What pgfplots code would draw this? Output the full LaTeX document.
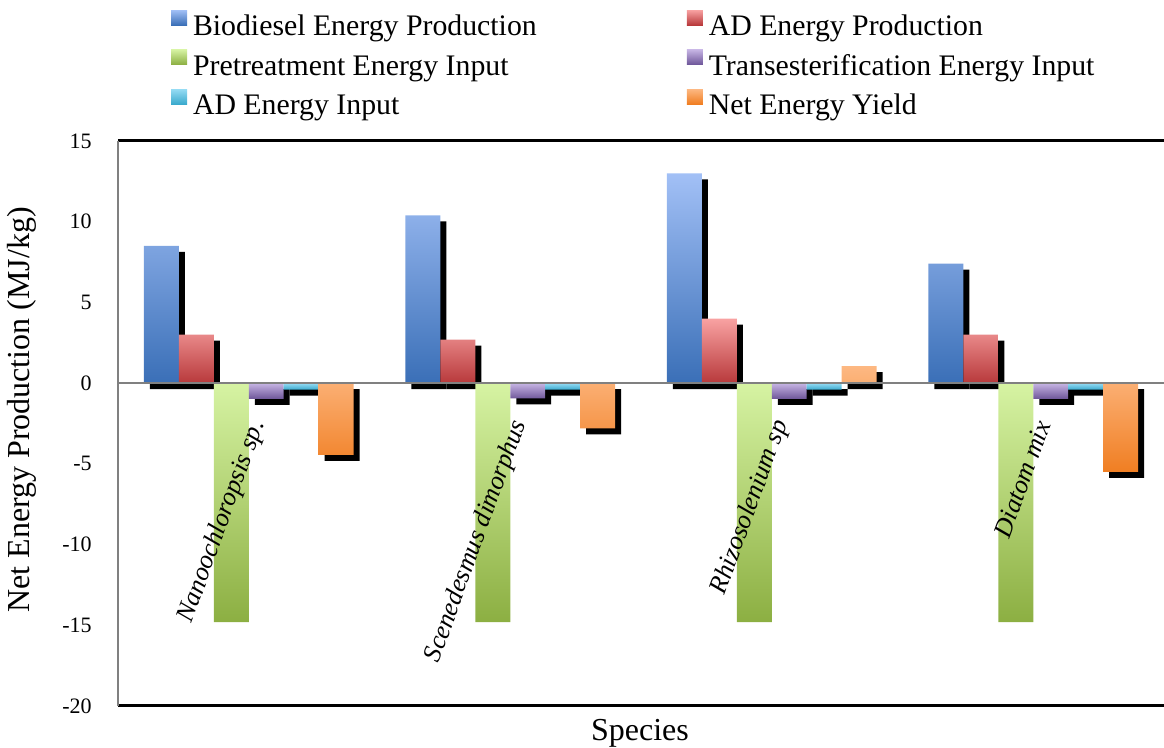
\documentclass[border=0pt]{standalone}
\usepackage{pgfplots}
\usepackage{pgfplotstable}
\pgfplotsset{compat=1.18}
\usepackage{fontspec}
\setmainfont{Liberation Serif}
\definecolor{bioT}{HTML}{A2C0F6}
\definecolor{bioB}{HTML}{3A6FB7}
\definecolor{adT}{HTML}{F8A2A2}
\definecolor{adB}{HTML}{B8393B}
\definecolor{preT}{HTML}{D6F3A3}
\definecolor{preB}{HTML}{8CAF42}
\definecolor{trT}{HTML}{C7B5E4}
\definecolor{trB}{HTML}{6E5699}
\definecolor{aiT}{HTML}{96DCF4}
\definecolor{aiB}{HTML}{3BAACD}
\definecolor{netT}{HTML}{FDB882}
\definecolor{netB}{HTML}{F07E22}
\definecolor{axgray}{HTML}{808080}

\pgfplotstableread{
x bio ad pre tr ai net
0 8.5 3.0 -14.8 -0.97 -0.4 -4.45
1 10.4 2.7 -14.8 -0.95 -0.4 -2.8
2 13.0 4.0 -14.8 -0.97 -0.4 1.05
3 7.4 3.0 -14.8 -0.97 -0.4 -5.5
}\datatable

\pgfplotsset{
  shadowbar/.style={ybar, bar width=0.1336, bar shift=#1, fill=black, draw=none, xshift=3pt, yshift=-3pt, forget plot},
  mainbar/.style={ybar, bar width=0.1336, bar shift=#1, draw=none},
}

\begin{document}
\begin{tikzpicture}
\useasboundingbox (0,0) rectangle (582pt,374pt);
\begin{axis}[
  at={(59pt,21pt)}, anchor=south west,
  scale only axis, width=523pt, height=282.5pt,
  xmin=-0.5, xmax=3.5, ymin=-20, ymax=15,
  clip=false,
  axis x line*=middle, axis y line*=left,
  axis on top,
  x axis line style={draw=axgray, line width=1pt},
  y axis line style={draw=axgray, line width=1pt},
  xtick={0,1,2,3},
  xticklabels={Nanoochloropsis sp., Scenedesmus dimorphus, Rhizosolenium sp, Diatom mix},
  xticklabel style={font=\itshape\fontsize{13}{16}\selectfont, inner sep=0pt, xshift=5pt, yshift=-19pt, rotate=70, anchor=east},
  ytick={-20,-15,...,15},
  yticklabel style={font=\fontsize{11}{13}\selectfont, inner sep=0pt, xshift=-13pt},
  major tick length=0pt,
  /pgf/number format/assume math mode=true,
  xlabel={Species}, ylabel={Net Energy Production (MJ/kg)},
  every axis x label/.style={at={(axis description cs:0.499,-0.048)}, anchor=center, font=\fontsize{16}{19}\selectfont},
  every axis y label/.style={at={(axis description cs:-0.0918,0.524)}, rotate=90, anchor=center, font=\fontsize{16}{19}\selectfont},
  legend columns=2,
  legend cell align=left,
  legend style={at={(axis description cs:0.0507,1.2318)}, anchor=north west, draw=none, fill=none, inner sep=0pt, outer sep=0pt,
    font=\fontsize{14.9}{17}\selectfont,
    nodes={inner sep=0pt, text height=10pt, text depth=3.5pt},
    row sep=3.5pt,
    /tikz/every odd column/.append style={column sep=3pt},
    /tikz/every even column/.append style={column sep=75pt}},
  legend image code/.code={\path[#1, draw=none] (0pt,2pt) rectangle (8pt,9.5pt);},
]
\addplot[shadowbar=-0.334] table[x=x,y=bio]{\datatable};
\addplot[mainbar=-0.334, top color=bioT, bottom color=bioB] table[x=x,y=bio]{\datatable};
\addlegendentry{Biodiesel Energy Production}
\addplot[shadowbar=-0.2004] table[x=x,y=ad]{\datatable};
\addplot[mainbar=-0.2004, top color=adT, bottom color=adB] table[x=x,y=ad]{\datatable};
\addlegendentry{AD Energy Production}
\addplot[mainbar=-0.0668, top color=preT, bottom color=preB] table[x=x,y=pre]{\datatable};
\addlegendentry{Pretreatment Energy Input}
\addplot[shadowbar=0.0668] table[x=x,y=tr]{\datatable};
\addplot[mainbar=0.0668, top color=trT, bottom color=trB] table[x=x,y=tr]{\datatable};
\addlegendentry{Transesterification Energy Input}
\addplot[shadowbar=0.2004] table[x=x,y=ai]{\datatable};
\addplot[mainbar=0.2004, top color=aiT, bottom color=aiB] table[x=x,y=ai]{\datatable};
\addlegendentry{AD Energy Input}
\addplot[shadowbar=0.334] table[x=x,y=net]{\datatable};
\addplot[mainbar=0.334, top color=netT, bottom color=netB] table[x=x,y=net]{\datatable};
\addlegendentry{Net Energy Yield}
\draw[black, line width=1.5pt] (rel axis cs:0,1) -- (rel axis cs:1,1);
\draw[black, line width=1.5pt] (rel axis cs:0,0) -- (rel axis cs:1,0);
\end{axis}
\end{tikzpicture}
\end{document}
